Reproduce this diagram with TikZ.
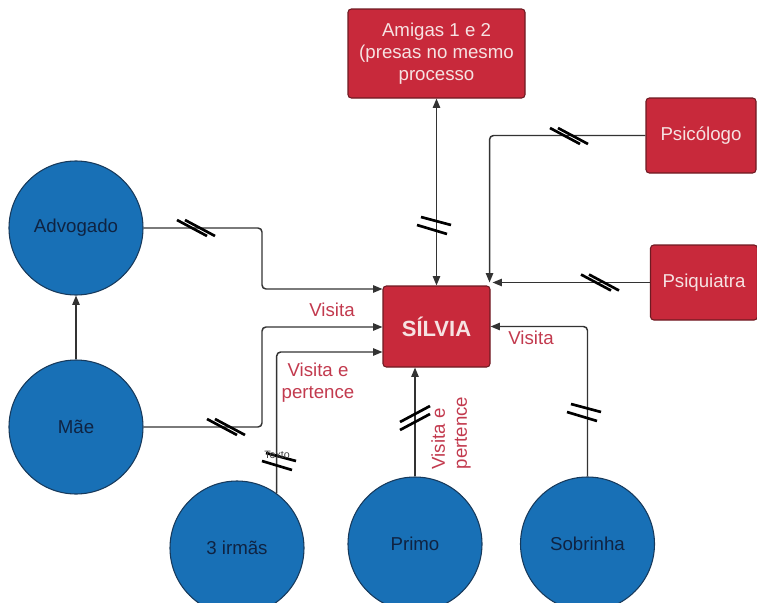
\documentclass[tikz,border=0pt]{standalone}
\usepackage{fontspec}
\setmainfont{Liberation Sans}
\usetikzlibrary{arrows.meta}

\definecolor{boxred}{HTML}{C8293B}
\definecolor{boxedge}{HTML}{6E1A22}
\definecolor{boxtext}{HTML}{F6E2E2}
\definecolor{circblue}{HTML}{1870B6}
\definecolor{circedge}{HTML}{173A5C}
\definecolor{circtext}{HTML}{0F2342}
\definecolor{labred}{HTML}{C23A4E}
\definecolor{lineclr}{HTML}{333333}

\tikzset{
  redbox/.style={draw=boxedge, line width=0.8pt, fill=boxred, rounded corners=2.5pt,
    text=boxtext, align=center, inner sep=0pt, font=\fontsize{14}{16.5}\selectfont},
  person/.style={circle, draw=circedge, line width=0.8pt, fill=circblue,
    text=circtext, inner sep=0pt, minimum size=100.5pt, font=\fontsize{14}{16.5}\selectfont},
  conn/.style={draw=lineclr, line width=1.1pt, rounded corners=3pt,
    -{Triangle[length=7pt,width=5.5pt]}},
  lab/.style={text=labred, align=center, font=\fontsize{14}{16.5}\selectfont},
  brkstroke/.style={draw=black, line width=2pt},
  % break mark across a horizontal line
  brkh/.pic={\draw[brkstroke] (-19,-8) -- (11,8); \draw[brkstroke] (-11,-8) -- (19,8);},
  % steep break mark across a vertical line
  brkv/.pic={\draw[brkstroke] (-15,4) -- (15,-12); \draw[brkstroke] (-15,12) -- (15,-4);},
  % shallow break mark across a vertical line
  brkd/.pic={\draw[brkstroke] (-19,-8) -- (11,0); \draw[brkstroke] (-23,0) -- (7,9);}
}

\begin{document}
\begin{tikzpicture}[x=0.75pt,y=-0.75pt]
\useasboundingbox (0,0) rectangle (757,603);
\clip (0,0) rectangle (757,603);

% central person and the red boxes
\node[redbox, minimum width=80.25pt, minimum height=60.75pt,
      font=\fontsize{16.5}{18}\selectfont\bfseries] (silvia) at (436.5,326.5) {SÍLVIA};
\node[redbox, minimum width=132.75pt, minimum height=66.75pt] (amigas) at (436.5,53.5)
  {Amigas 1 e 2\\(presas no mesmo\\processo};
\node[redbox, minimum width=82.5pt, minimum height=56.25pt] (psico) at (701,135.5) {Psicólogo};
\node[redbox, minimum width=80.25pt, minimum height=56.25pt] (psiq) at (704,282.5) {Psiquiatra};

% blue circles
\node[person] (adv) at (76,228) {Advogado};
\node[person] (mae) at (76,427) {Mãe};
\node[person] (irmas) at (237,548) {3 irmãs};
\node[person] (primo) at (415,544) {Primo};
\node[person] (sob) at (587.5,544) {Sobrinha};

% connectors
\draw[conn, {Triangle[length=7pt,width=5.5pt]}-{Triangle[length=7pt,width=5.5pt]}]
  (amigas.south) -- (silvia.north);
\draw[conn] (psico.west) -| ([shift={(-1,-3)}]silvia.north east);
\draw[conn] (psiq.west) -- ([shift={(2,0)}]silvia.north east |- psiq.west);
\draw[conn] (adv.east) -| (262,289) -- (silvia.west |- 0,289);
\draw[conn] (mae.east) -| (262,327) -- (silvia.west |- 0,327);
\draw[conn] (irmas.54) |- (silvia.west |- 0,352);
\draw[conn] (primo.north) -- (primo.north |- silvia.south);
\draw[conn] (sob.north) |- (silvia.east);
\draw[conn] (mae.north) -- (adv.south);

% break marks
\path (196,228) pic {brkh};
\path (226,427) pic {brkh};
\path (569,136) pic {brkh};
\path (600,282.5) pic {brkh};
\path (440,225) pic {brkd};
\path (285,461) pic {brkd};
\path (415,418) pic {brkv};
\path (590,412) pic {brkd};
\node[text=black!75, font=\fontsize{8}{8}\selectfont, inner sep=0pt] (texto) at (277,455) {Texto};

% labels
\node[lab] (l1) at (332,310) {Visita};
\node[lab] (l2) at (318,383) {Visita e\\pertence};
\node[lab, rotate=90, align=left] (l3) at (451,433) {Visita e\\pertence};
\node[lab] (l4) at (531,338) {Visita};
\end{tikzpicture}
\end{document}
